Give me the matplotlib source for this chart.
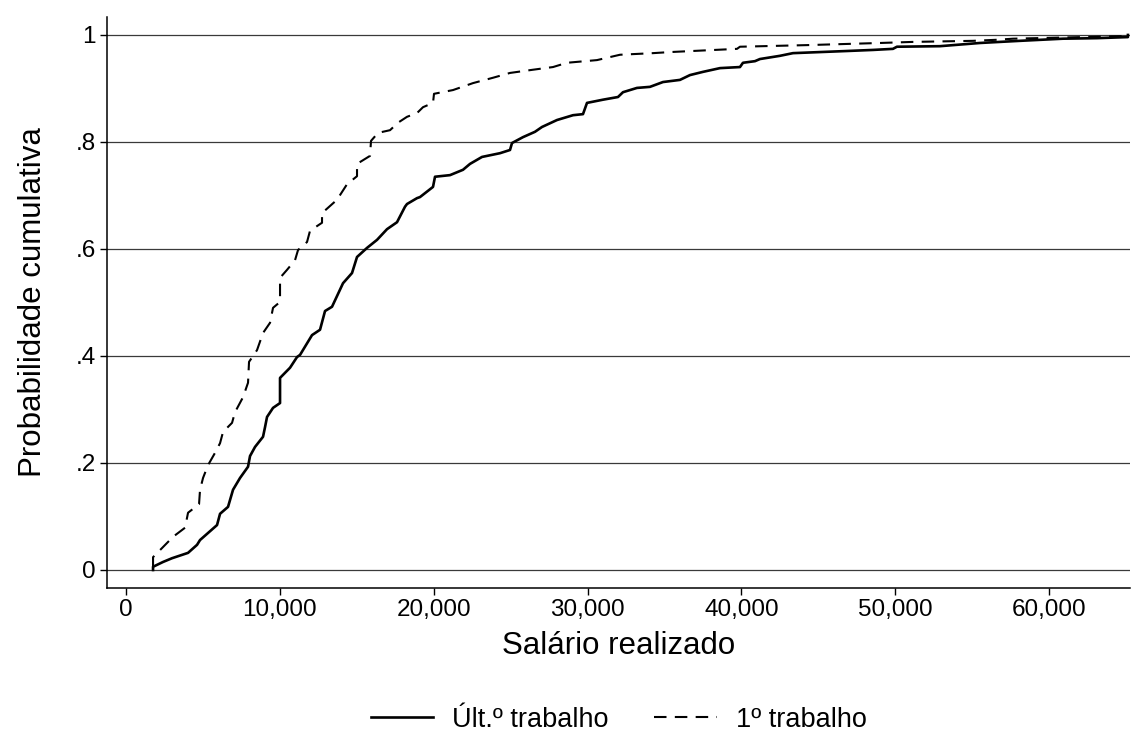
import matplotlib
matplotlib.use('Agg')
import matplotlib.pyplot as plt
from matplotlib.ticker import FuncFormatter

plt.rcParams['font.family'] = ['Liberation Sans', 'DejaVu Sans']

# Distribuição cumulativa do salário realizado (vértices da curva empírica)
ult_salario = [1755, 1755, 2405, 2990, 4030, 4615, 4810, 5915, 6110, 6630, 6955, 7410,
               7930, 8060, 8385, 8905, 9035, 9165, 9555, 10010, 10010, 10660, 11115, 11310,
               12090, 12610, 12935, 13390, 14105, 14690, 15015, 15665, 16315, 16965, 17615,
               18135, 18265, 18915, 19110, 19955, 20085, 21060, 21905, 22360, 23140, 24310,
               24960, 25090, 25805, 26585, 27040, 28015, 29055, 29705, 29965, 31005, 31980,
               32305, 33215, 34060, 34905, 36010, 36660, 37505, 38610, 39910, 40105, 40885,
               41210, 42510, 43355, 45110, 46865, 48555, 49855, 50115, 52910, 55510, 58110,
               60905, 63115, 65130, 65130]
ult_prob = [0, .006, .015, .022, .032, .047, .056, .084, .105, .118, .150, .172,
            .193, .213, .230, .249, .267, .286, .303, .312, .359, .378, .398, .402,
            .439, .449, .484, .492, .536, .555, .585, .602, .617, .637, .650,
            .679, .684, .695, .697, .716, .735, .738, .748, .759, .772, .779,
            .785, .798, .809, .819, .828, .841, .850, .852, .873, .879, .884,
            .893, .901, .903, .912, .916, .925, .931, .938, .940, .948, .951,
            .955, .961, .966, .968, .970, .972, .974, .978, .979, .985, .989,
            .993, .994, .996, 1.0]

prim_salario = [1755, 1755, 2340, 3055, 3835, 4030, 4745, 4810, 5005, 5330, 5785, 6110,
                6305, 6890, 7085, 7605, 7930, 7995, 8515, 8905, 9360, 9555, 10010, 10010,
                10465, 10985, 11180, 11765, 11960, 12740, 12740, 13715, 14365, 15015, 15015,
                15860, 15925, 16380, 17160, 17680, 18265, 18915, 19305, 19955, 20020, 21255,
                22555, 23855, 24960, 26455, 27755, 28665, 30615, 32110, 34255, 35360, 39715,
                39910, 44265, 49010, 51155, 55055, 56615, 57655, 65130, 65130]
prim_prob = [.004, .024, .041, .062, .079, .107, .123, .150, .172, .196, .219, .237,
             .258, .275, .295, .323, .350, .389, .411, .443, .462, .490, .501, .546,
             .561, .579, .598, .613, .634, .649, .667, .692, .721, .736, .759,
             .774, .802, .817, .822, .836, .847, .854, .865, .873, .890, .897,
             .910, .920, .929, .935, .940, .948, .953, .963, .966, .968, .974,
             .978, .981, .985, .987, .989, .991, .993, .998, 1.0]

x_ticks = [0, 10000, 20000, 30000, 40000, 50000, 60000]
y_ticks = [0, .2, .4, .6, .8, 1]
y_tick_labels = ['0', '.2', '.4', '.6', '.8', '1']

fig = plt.figure(figsize=(11.34, 7.38), dpi=100)
ax = fig.add_axes([0.0944, 0.2033, 0.902, 0.7737])

ax.plot(ult_salario, ult_prob, color='black', lw=1.9, label='Últ.º trabalho')
ax.plot(prim_salario, prim_prob, color='black', lw=1.5, linestyle=(0, (6, 4)),
        label='1º trabalho')

ax.set_xlim(-1235, 65260)
ax.set_ylim(-0.0336, 1.0336)

ax.set_yticks(y_ticks)
ax.set_yticklabels(y_tick_labels)
ax.set_xticks(x_ticks)
ax.xaxis.set_major_formatter(FuncFormatter(lambda v, p: f'{int(v):,}'))

ax.grid(axis='y', color='#3a3a3a', lw=0.9)
ax.set_axisbelow(True)
for s in ['top', 'right']:
    ax.spines[s].set_visible(False)
for s in ['left', 'bottom']:
    ax.spines[s].set_linewidth(1.1)

ax.tick_params(axis='both', direction='out', length=5, width=1.0, labelsize=17.5, pad=3)
ax.set_xlabel('Salário realizado', fontsize=22.5, labelpad=7)
ax.set_ylabel('Probabilidade cumulativa', fontsize=22.5, labelpad=20)

ax.legend(loc='upper center', bbox_to_anchor=(0.5, -0.165), ncol=2, frameon=False,
          fontsize=19.5, handlelength=2.3, handletextpad=0.7, columnspacing=1.7)

fig.savefig('out.png', dpi=100, facecolor='white')
